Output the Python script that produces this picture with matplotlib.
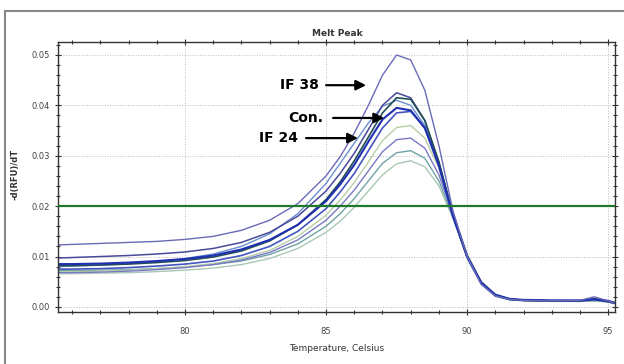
import numpy as np
import matplotlib
matplotlib.use("Agg")
import matplotlib.pyplot as plt
from matplotlib.lines import Line2D
from matplotlib.ticker import MultipleLocator

# temperature grid (Celsius)
temps = [75.5, 76, 77, 78, 79, 80, 81, 82, 83, 84, 85, 85.5, 86, 86.5, 87,
         87.5, 88, 88.5, 89, 89.5, 90, 90.5, 91, 91.5, 92, 93, 94, 94.5, 95, 95.2]

# -d(RFU)/dT for each sample
if38 = [0.0123, 0.0124, 0.0126, 0.0128, 0.0130, 0.0134, 0.0140, 0.0152, 0.0172, 0.0205,
        0.0260, 0.0298, 0.0345, 0.0400, 0.0460, 0.0500, 0.0490, 0.0430, 0.0320, 0.0190,
        0.0100, 0.0045, 0.0022, 0.0015, 0.0013, 0.0012, 0.0013, 0.0020, 0.0012, 0.0008]
s2 = [0.0097, 0.0098, 0.0100, 0.0102, 0.0105, 0.0109, 0.0116, 0.0128, 0.0148, 0.0180,
      0.0230, 0.0265, 0.0305, 0.0352, 0.0400, 0.0425, 0.0415, 0.0370, 0.0285, 0.0180,
      0.0098, 0.0046, 0.0022, 0.0015, 0.0013, 0.0012, 0.0012, 0.0016, 0.0010, 0.0007]
if24 = [0.0080, 0.0081, 0.0083, 0.0086, 0.0090, 0.0096, 0.0105, 0.0120, 0.0145, 0.0185,
        0.0245, 0.0285, 0.0325, 0.0365, 0.0398, 0.0410, 0.0400, 0.0360, 0.0280, 0.0178,
        0.0097, 0.0045, 0.0021, 0.0014, 0.0012, 0.0011, 0.0011, 0.0014, 0.0010, 0.0007]
con = [0.0085, 0.0085, 0.0086, 0.0088, 0.0091, 0.0095, 0.0102, 0.0114, 0.0133, 0.0163,
       0.0210, 0.0243, 0.0282, 0.0328, 0.0372, 0.0395, 0.0390, 0.0355, 0.0280, 0.0180,
       0.0100, 0.0048, 0.0024, 0.0016, 0.0014, 0.0013, 0.0013, 0.0015, 0.0012, 0.0009]
s5 = [0.0075, 0.0075, 0.0076, 0.0078, 0.0081, 0.0085, 0.0091, 0.0102, 0.0120, 0.0150,
      0.0195, 0.0228, 0.0265, 0.0310, 0.0355, 0.0385, 0.0388, 0.0355, 0.0285, 0.0185,
      0.0102, 0.0048, 0.0023, 0.0015, 0.0013, 0.0012, 0.0012, 0.0014, 0.0011, 0.0008]
s6 = [0.0070, 0.0070, 0.0071, 0.0073, 0.0076, 0.0080, 0.0086, 0.0096, 0.0112, 0.0140,
      0.0182, 0.0212, 0.0247, 0.0288, 0.0330, 0.0356, 0.0360, 0.0335, 0.0275, 0.0188,
      0.0105, 0.0050, 0.0024, 0.0016, 0.0013, 0.0012, 0.0012, 0.0013, 0.0011, 0.0008]
s7 = [0.0068, 0.0068, 0.0069, 0.0071, 0.0074, 0.0078, 0.0084, 0.0093, 0.0108, 0.0133,
      0.0172, 0.0200, 0.0232, 0.0270, 0.0308, 0.0332, 0.0335, 0.0315, 0.0262, 0.0182,
      0.0102, 0.0049, 0.0024, 0.0016, 0.0013, 0.0012, 0.0012, 0.0015, 0.0011, 0.0008]
s8 = [0.0072, 0.0072, 0.0073, 0.0074, 0.0076, 0.0079, 0.0084, 0.0091, 0.0104, 0.0125,
      0.0160, 0.0185, 0.0215, 0.0250, 0.0285, 0.0306, 0.0310, 0.0295, 0.0250, 0.0178,
      0.0102, 0.0050, 0.0025, 0.0016, 0.0013, 0.0012, 0.0011, 0.0012, 0.0010, 0.0008]
s9 = [0.0066, 0.0066, 0.0067, 0.0068, 0.0070, 0.0073, 0.0077, 0.0084, 0.0096, 0.0116,
      0.0148, 0.0170, 0.0198, 0.0230, 0.0262, 0.0284, 0.0290, 0.0278, 0.0240, 0.0175,
      0.0102, 0.0050, 0.0025, 0.0016, 0.0013, 0.0012, 0.0011, 0.0012, 0.0010, 0.0008]
s10 = [0.0082, 0.0082, 0.0083, 0.0085, 0.0088, 0.0092, 0.0099, 0.0111, 0.0131, 0.0163,
       0.0213, 0.0248, 0.0290, 0.0337, 0.0385, 0.0415, 0.0412, 0.0370, 0.0288, 0.0182,
       0.0100, 0.0048, 0.0023, 0.0015, 0.0013, 0.0012, 0.0012, 0.0016, 0.0011, 0.0008]

series = [s9, s8, s6, s7, s5, if24, s2, s10, con, if38]
colors = ['#a9c9b4', '#6fa3a6', '#b6cfa4', '#7a78c8', '#4455c0',
          '#6a8fcf', '#4a4a9a', '#1f4d55', '#1f2fb0', '#6a6ab8']
widths = [1.0, 1.0, 1.0, 1.0, 1.2, 1.0, 1.1, 1.2, 1.5, 1.0]

threshold = 0.02

fig = plt.figure(figsize=(6.24, 3.64), dpi=100)
ax = fig.add_axes([0.093, 0.143, 0.893, 0.742])

for vals, c, w in zip(series, colors, widths):
    ax.plot(temps, vals, color=c, lw=w)

ax.axhline(threshold, color='#1e7a2a', lw=1.6, zorder=3)

ax.set_xlim(75.5, 95.25)
ax.set_ylim(-0.001, 0.0526)
ax.xaxis.set_major_locator(MultipleLocator(5))
ax.xaxis.set_minor_locator(MultipleLocator(1))
ax.yaxis.set_major_locator(MultipleLocator(0.01))
ax.yaxis.set_minor_locator(MultipleLocator(0.002))
ax.yaxis.set_major_formatter(plt.FuncFormatter(lambda v, p: f"{v:.2f}"))
ax.xaxis.set_major_formatter(plt.FuncFormatter(lambda v, p: f"{v:.0f}"))

ax.tick_params(which='both', direction='inout', top=True, right=True,
               color='#333333', labelsize=6, labelcolor='#444444', width=0.8)
ax.tick_params(which='major', length=5)
ax.tick_params(which='minor', length=3)
ax.tick_params(axis='x', labeltop=False, pad=8)
ax.tick_params(axis='y', labelright=False)
ax.grid(True, which='major', ls=':', color='#bbbbbb', lw=0.7)
for sp in ax.spines.values():
    sp.set_color('#333333')
    sp.set_linewidth(1.0)

ax.set_xlabel('Temperature, Celsius', fontsize=6.5, color='#333333', labelpad=6)
fig.text(0.024, 0.52, '-d(RFU)/dT', rotation=90, fontsize=6, color='#333333',
         ha='center', va='center', fontweight='bold')
fig.text(0.54, 0.907, 'Melt Peak', fontsize=6.5, fontweight='bold', color='#333333',
         ha='center', va='center')

# annotations
labels = [('IF 38', 84.04, 0.0440, 85.0, 86.42),
          ('Con.', 84.29, 0.0375, 85.25, 87.06),
          ('IF 24', 83.33, 0.0335, 84.29, 86.13)]
for txt, tx, ty, x0, x1 in labels:
    ax.text(tx, ty, txt, fontsize=10, fontweight='bold', ha='center', va='center')
    ax.annotate('', xy=(x1, ty), xytext=(x0, ty),
                arrowprops=dict(arrowstyle='-|>', color='black', lw=1.6,
                                mutation_scale=15, shrinkA=0, shrinkB=0))

# outer frame (top and left only)
fig.add_artist(Line2D([0.008, 1.0], [0.97, 0.97], transform=fig.transFigure,
                      color='#888888', lw=1.5))
fig.add_artist(Line2D([0.008, 0.008], [0.0, 0.97], transform=fig.transFigure,
                      color='#888888', lw=1.5))

fig.savefig('out.png', dpi=100)
